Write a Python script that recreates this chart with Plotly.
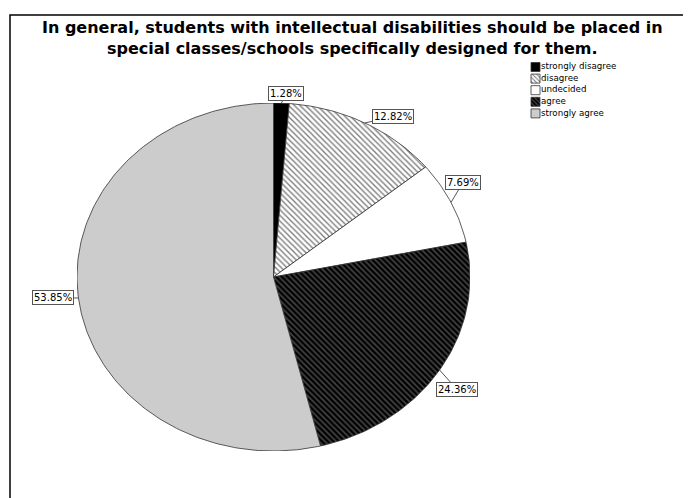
import numpy as np
import plotly.graph_objects as go

categories = ["strongly disagree", "disagree", "undecided", "agree", "strongly agree"]
counts = [1, 10, 6, 19, 42]
pct_labels = ["1.28%", "12.82%", "7.69%", "24.36%", "53.85%"]

title_text = ("In general, students with intellectual disabilities should be placed in<br>"
              "special classes/schools specifically designed for them.")

# styles
fill_colors = ["#000000", "#ffffff", "#ffffff", "#000000", "#cccccc"]
patterns = [
    None,
    dict(shape="\\", fgcolor="#000000", bgcolor="#ffffff", size=4, solidity=0.35),
    None,
    dict(shape="\\", fgcolor="#8a8a8a", bgcolor="#000000", size=4, solidity=0.4),
    None,
]
label_offsets = [(5, -10), (28, -6), (12, -20), (17, 19), (-25, 0)]

OFF = 8                     # page body margin
W, H = 691 - OFF, 498 - OFF


def px(x):
    return (x - OFF) / W


def py(y):
    return 1 - (y - OFF) / H


# ellipse box in window pixels
px_left, px_right, px_top, px_bottom = 77, 470, 103, 451

fig = go.Figure()

total = float(sum(counts))
fracs = [c / total for c in counts]
cum = np.cumsum([0] + fracs)

for i, name in enumerate(categories):
    a0, a1 = cum[i] * 2 * np.pi, cum[i + 1] * 2 * np.pi
    n = max(4, int((a1 - a0) / (2 * np.pi) * 360))
    th = np.linspace(a0, a1, n)
    xs = np.concatenate([[0], np.sin(th), [0]])
    ys = np.concatenate([[0], np.cos(th), [0]])
    tr = dict(x=xs, y=ys, mode="lines", fill="toself", fillcolor=fill_colors[i],
              line=dict(color="#333333", width=0.8), name=name, showlegend=False,
              hoverinfo="skip", xaxis="x", yaxis="y")
    if patterns[i] is not None:
        tr["fillpattern"] = patterns[i]
    fig.add_trace(go.Scatter(**tr))

# percentage labels
for i, lab in enumerate(pct_labels):
    mid = (cum[i] + cum[i + 1]) / 2 * 2 * np.pi
    ax, ay = label_offsets[i]
    fig.add_annotation(x=float(np.sin(mid)), y=float(np.cos(mid)), xref="x", yref="y",
                       text=lab, showarrow=True, arrowhead=0, arrowwidth=1,
                       arrowcolor="#555555", ax=ax, ay=ay,
                       bgcolor="#ffffff", bordercolor="#555555", borderwidth=1, borderpad=1,
                       font=dict(family="DejaVu Sans", size=10, color="#000000"))

# custom compact legend (pixel axes)
lx0, ly0, step = 531, 62.5, 11.6
for i, name in enumerate(categories):
    y0 = ly0 + step * i
    sx = [lx0, lx0 + 9, lx0 + 9, lx0, lx0]
    sy = [y0, y0, y0 + 9, y0 + 9, y0]
    tr = dict(x=sx, y=sy, mode="lines", fill="toself", fillcolor=fill_colors[i],
              line=dict(color="#333333", width=0.8), showlegend=False,
              hoverinfo="skip", xaxis="x2", yaxis="y2")
    if patterns[i] is not None:
        p = dict(patterns[i])
        p["size"] = 3
        tr["fillpattern"] = p
    fig.add_trace(go.Scatter(**tr))
    fig.add_trace(go.Scatter(x=[lx0 + 10], y=[y0 + 4.5], mode="text", text=[name],
                             textposition="middle right",
                             textfont=dict(family="DejaVu Sans", size=8.7, color="#000000"),
                             showlegend=False, hoverinfo="skip", xaxis="x2", yaxis="y2"))

# title (two lines in one text)
fig.add_annotation(text=title_text, xref="paper", yref="paper", x=px(352), y=py(38.5),
                   xanchor="center", yanchor="middle", showarrow=False, align="center",
                   font=dict(family="DejaVu Sans", size=16, color="#000000", weight="bold"))

fig.update_layout(
    width=W, height=H,
    margin=dict(l=0, r=0, t=0, b=0),
    paper_bgcolor="#ffffff", plot_bgcolor="rgba(0,0,0,0)",
    showlegend=False,
    xaxis=dict(range=[-1, 1], domain=[px(px_left), px(px_right)], visible=False,
               fixedrange=True),
    yaxis=dict(range=[-1, 1], domain=[py(px_bottom), py(px_top)], visible=False,
               fixedrange=True),
    xaxis2=dict(range=[OFF, OFF + W], domain=[0, 1], visible=False, fixedrange=True,
                anchor="y2"),
    yaxis2=dict(range=[OFF + H, OFF], domain=[0, 1], visible=False, fixedrange=True,
                anchor="x2"),
    shapes=[dict(type="rect", xref="paper", yref="paper", x0=px(10), x1=1.05,
                 y0=-0.05, y1=py(15), line=dict(color="#000000", width=1.5),
                 fillcolor="rgba(0,0,0,0)", layer="below")],
)

fig.write_html("out.html")
